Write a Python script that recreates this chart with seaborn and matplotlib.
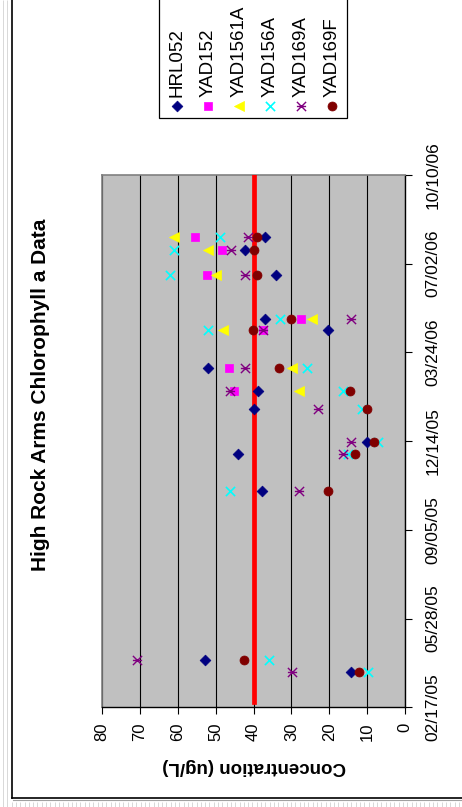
import numpy as np
import pandas as pd
import matplotlib
matplotlib.use('Agg')
import matplotlib.pyplot as plt
import matplotlib.dates as mdates
from matplotlib.path import Path
from matplotlib.patches import Rectangle
import seaborn as sns

plt.rcParams['font.family'] = ['Liberation Sans', 'DejaVu Sans']

# sample dates and chlorophyll a values (ug/L) per station
sample_dates = ['2005-03-29', '2005-04-11', '2005-10-19', '2005-11-29', '2005-12-13',
                '2006-01-19', '2006-02-08', '2006-03-06', '2006-04-18', '2006-05-01',
                '2006-06-19', '2006-07-18', '2006-08-01']
nan = np.nan
hrl052 = [14.3, 52.8, 37.8, 44.2, 10.1, 39.9, 38.7, 52.1, 20.2, 37.0, 34.0, 42.2, 37.0]
yad152 = [nan, nan, nan, nan, nan, nan, 45.1, 46.4, 37.6, 27.4, 52.3, 48.4, 55.4]
yad1561a = [nan, nan, nan, nan, nan, nan, 28.0, 29.9, 48.0, 24.6, 49.9, 51.9, 61.0]
yad156a = [9.9, 36.0, 46.2, 15.0, 7.0, 11.4, 16.3, 26.0, 52.1, 33.0, 62.0, 61.0, 48.8]
yad169a = [29.9, 70.8, 28.1, 16.3, 14.3, 22.9, 46.2, 42.2, 37.6, 14.3, 42.2, 46.0, 41.5]
yad169f = [12.1, 42.4, 20.2, 13.2, 8.1, 10.1, 14.5, 33.3, 40.2, 30.2, 39.2, 40.0, 39.2]

station_names = ['HRL052', 'YAD152', 'YAD1561A', 'YAD156A', 'YAD169A', 'YAD169F']
station_values = [hrl052, yad152, yad1561a, yad156a, yad169a, yad169f]

# standard line (40 ug/L)
standard_dates = ['2005-02-23', '2006-10-09']
standard_value = [40, 40]

date_ticks = pd.date_range('2005-02-17', periods=7, freq='100D')
conc_ticks = list(range(0, 90, 10))

# star marker: x with a horizontal bar (chart is turned on its side)
star = Path([(-1, -1), (1, 1), (-1, 1), (1, -1), (-1, 0), (1, 0)],
            [Path.MOVETO, Path.LINETO, Path.MOVETO, Path.LINETO, Path.MOVETO, Path.LINETO])

styles = {
    'HRL052': dict(marker='D', color='#000080', s=30, lw=0.5),
    'YAD152': dict(marker='s', color='#FF00FF', s=38, lw=0.5),
    'YAD1561A': dict(marker='<', color='#FFFF00', s=52, lw=0.5),
    'YAD156A': dict(marker='x', color='#00FFFF', s=44, lw=1.2),
    'YAD169A': dict(marker=star, color='#800080', s=44, lw=1.0),
    'YAD169F': dict(marker='o', color='#800000', s=42, lw=0.5),
}

fig = plt.figure(figsize=(4.62, 8.07), dpi=100)
ax = fig.add_axes([102 / 462, (807 - 707.3) / 807, 303 / 462, 532.3 / 807])
ax.set_facecolor('#C0C0C0')

dates = pd.to_datetime(sample_dates)
std = pd.DataFrame({'conc': standard_value, 'date': pd.to_datetime(standard_dates)})
sns.lineplot(data=std, x='conc', y='date', estimator=None, sort=False,
             color='#FF0000', linewidth=3.4, ax=ax, zorder=3)

for name, vals in zip(station_names, station_values):
    st = styles[name]
    df = pd.DataFrame({'conc': vals, 'date': dates}).dropna()
    sns.scatterplot(data=df, x='conc', y='date', marker=st['marker'], color=st['color'],
                    edgecolor=st['color'], s=st['s'], linewidth=st['lw'], ax=ax, zorder=4)

ax.set_xlim(80, 0)
ax.set_ylim(date_ticks[0], date_ticks[-1])
ax.set_xticks(conc_ticks)
ax.set_yticks(date_ticks)
ax.yaxis.set_major_formatter(mdates.DateFormatter('%m/%d/%y'))
ax.set_xlabel('')
ax.set_ylabel('')
ax.xaxis.grid(True, color='black', linewidth=0.8)
ax.yaxis.grid(False)
ax.set_axisbelow(True)

ax.tick_params(axis='x', labelrotation=90, length=5, width=0.8, pad=6, labelsize=12)
ax.tick_params(axis='y', left=False, right=True, labelleft=False, labelright=True,
               labelrotation=90, length=5, width=0.8, pad=10, labelsize=12.5)
plt.setp(ax.get_yticklabels(), va='center')

for side in ['left', 'top']:
    ax.spines[side].set_color('#808080')
    ax.spines[side].set_linewidth(1.2)
for side in ['right', 'bottom']:
    ax.spines[side].set_color('black')
    ax.spines[side].set_linewidth(1.0)

fig.text(41 / 462, (807 - 395) / 807, 'High Rock Arms Chlorophyll a Data', rotation=90,
         ha='center', va='center', fontsize=15, fontweight='bold')
fig.text(254 / 462, (807 - 767) / 807, 'Concentration (ug/L)', rotation=180,
         ha='center', va='center', fontsize=13.5, fontweight='bold')

# overlay in pixel units for the page frame and the sideways legend
ov = fig.add_axes([0, 0, 1, 1], zorder=5)
ov.set_xlim(0, 462)
ov.set_ylim(807, 0)
ov.axis('off')
ov.patch.set_alpha(0)

ov.vlines([2.5, 6.5], 0, 807, color='#D8D8D8', lw=0.7)
ov.vlines(np.arange(3, 462, 4.3), 801.5, 807, color='#D8D8D8', lw=0.7)
ov.plot([12, 12], [0, 798], color='black', lw=1.2)
ov.plot([12, 462], [798, 798], color='black', lw=1.2)
ov.plot([13, 462], [799.8, 799.8], color='#A0A0A0', lw=0.8)

ov.add_patch(Rectangle((159, -5), 188, 123, facecolor='white', edgecolor='black', lw=0.9))
for i, name in enumerate(station_names):
    st = styles[name]
    xk = 176.7 + 31.1 * i
    ov.scatter([xk], [106], marker=st['marker'], color=st['color'], edgecolors=st['color'],
               s=st['s'], linewidths=st['lw'])
    ov.text(xk, 97, name, rotation=90, ha='center', va='bottom', fontsize=13.5)

fig.savefig('out.png', dpi=100)
